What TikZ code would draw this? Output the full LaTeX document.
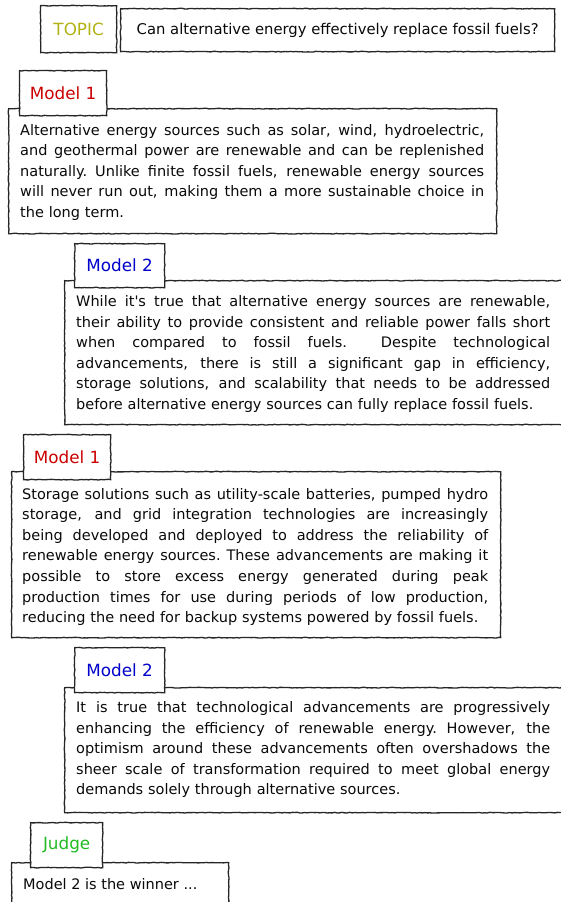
\documentclass[tikz,border=0pt]{standalone}
\usepackage{fontspec}
\setmainfont{DejaVu Sans}
\usetikzlibrary{decorations.pathmorphing}
\definecolor{topiccol}{RGB}{178,178,20}
\definecolor{mAcol}{RGB}{204,0,0}
\definecolor{mBcol}{RGB}{0,0,204}
\definecolor{judgecol}{RGB}{34,187,34}
\definecolor{inkcol}{RGB}{10,10,10}
\newlength\lnwd
\newcommand\jl[1]{\leavevmode\hbox to\lnwd{\spaceskip=0.318em plus 1fil\relax\xspaceskip=0.318em plus 1fil\relax #1}\\}
\newcommand\lastln[1]{#1}
\newcommand\bodyfont{\fontsize{14.5}{20.6}\selectfont}
\newcommand\labfont{\fontsize{16.8}{19}\selectfont}
\tikzset{
  sketch/.style={draw=black!85, line width=1.3pt, decorate,
    decoration={random steps,segment length=2.5pt,amplitude=0.35pt}},
  bodybox/.style={sketch, fill=white, inner sep=0pt, anchor=north west},
  labbox/.style={sketch, fill=white, inner sep=0pt, anchor=north west, font=\labfont},
  bodytext/.style={inner sep=0pt, anchor=base west, align=left, font=\bodyfont, text=inkcol},
}
\begin{document}
\begin{tikzpicture}[x=1pt,y=-1pt]
\useasboundingbox (0,0) rectangle (560,902);
% topic row
\node[labbox, minimum width=76pt, minimum height=47pt, text=topiccol] (topic) at (40,5) {TOPIC};
\node[bodybox, minimum width=434pt, minimum height=43pt, font=\fontsize{14.8}{18}\selectfont, text=inkcol] (question) at (120,8) {Can alternative energy effectively replace fossil fuels?};
% block 1
\node[bodybox, minimum width=488pt, minimum height=125pt] (b1) at (8,108) {};
\node[labbox, minimum width=87pt, minimum height=45pt, text=mAcol] (lab1) at (19,70) {Model 1};
\setlength\lnwd{464pt}
\node[bodytext, text width=464pt] (t1) at (20,135) {%
\jl{Alternative energy sources such as solar, wind, hydroelectric,}%
\jl{and geothermal power are renewable and can be replenished}%
\jl{naturally. Unlike finite fossil fuels, renewable energy sources}%
\jl{will never run out, making them a more sustainable choice in}%
\lastln{the long term.}};
% block 2
\node[bodybox, minimum width=510pt, minimum height=144pt] (b2) at (64,280) {};
\node[labbox, minimum width=90pt, minimum height=44pt, text=mBcol] (lab2) at (74,243) {Model 2};
\setlength\lnwd{474pt}
\node[bodytext, text width=474pt] (t2) at (76,306.5) {%
\jl{While it\textquotesingle s true that alternative energy sources are renewable,}%
\jl{their ability to provide consistent and reliable power falls short}%
\jl{when compared to fossil fuels. \ Despite technological}%
\jl{advancements, there is still a significant gap in efficiency,}%
\jl{storage solutions, and scalability that needs to be addressed}%
\lastln{before alternative energy sources can fully replace fossil fuels.}};
% block 3
\node[bodybox, minimum width=489pt, minimum height=166pt] (b3) at (11,471) {};
\node[labbox, minimum width=87pt, minimum height=45pt, text=mAcol] (lab3) at (23,434) {Model 1};
\setlength\lnwd{466pt}
\node[bodytext, text width=466pt] (t3) at (22,499) {%
\jl{Storage solutions such as utility-scale batteries, pumped hydro}%
\jl{storage, and grid integration technologies are increasingly}%
\jl{being developed and deployed to address the reliability of}%
\jl{renewable energy sources. These advancements are making it}%
\jl{possible to store excess energy generated during peak}%
\jl{production times for use during periods of low production,}%
\lastln{reducing the need for backup systems powered by fossil fuels.}};
% block 4
\node[bodybox, minimum width=510pt, minimum height=125pt] (b4) at (64,687) {};
\node[labbox, minimum width=90pt, minimum height=45pt, text=mBcol] (lab4) at (74,647) {Model 2};
\setlength\lnwd{474pt}
\node[bodytext, text width=474pt] (t4) at (76,712.5) {%
\jl{It is true that technological advancements are progressively}%
\jl{enhancing the efficiency of renewable energy. However, the}%
\jl{optimism around these advancements often overshadows the}%
\jl{sheer scale of transformation required to meet global energy}%
\lastln{demands solely through alternative sources.}};
% judge
\node[bodybox, minimum width=217pt, minimum height=60pt] (b5) at (11,862) {};
\node[labbox, minimum width=72pt, minimum height=45pt, text=judgecol] (lab5) at (30,822) {Judge};
\node[bodytext] (t5) at (23,889) {Model 2 is the winner ...};
\end{tikzpicture}
\end{document}
